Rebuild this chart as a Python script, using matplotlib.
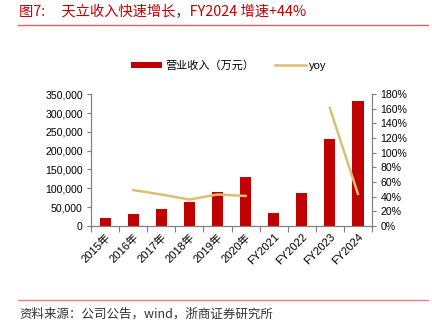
import numpy as np
import matplotlib.pyplot as plt
from matplotlib.ticker import FuncFormatter

plt.rcParams['font.family'] = ['Liberation Sans', 'Noto Sans CJK SC']

# Revenue (10k CNY) and yoy growth
years = ['2015年', '2016年', '2017年', '2018年', '2019年', '2020年',
         'FY2021', 'FY2022', 'FY2023', 'FY2024']
revenue = [21000, 31000, 45000, 63000, 91000, 129000, 34000, 87500, 230000, 332000]
yoy = [np.nan, 49, 43, 36, 43, 41, np.nan, np.nan, 161, 44]

red = '#C00000'
gold = '#DDBE72'
grey = '#808080'

fig = plt.figure(figsize=(4.32, 3.27), dpi=100)
ax = fig.add_axes([0.211, 0.309, 0.65, 0.403])
ax2 = ax.twinx()

x = np.arange(len(years))
bars = ax.bar(x, revenue, width=0.4, color=red, label='营业收入（万元）', zorder=2)
line, = ax2.plot(x, yoy, color=gold, lw=1.8, label='yoy', zorder=3)
ax2.set_zorder(ax.get_zorder() + 1)
ax2.patch.set_visible(False)

ax.set_xlim(-0.5, len(years) - 0.5)
ax.set_ylim(0, 350000)
ax.set_yticks(np.arange(0, 350001, 50000))
ax.yaxis.set_major_formatter(FuncFormatter(lambda v, p: '{:,.0f}'.format(v)))
ax2.set_ylim(0, 180)
ax2.set_yticks(np.arange(0, 181, 20))
ax2.yaxis.set_major_formatter(FuncFormatter(lambda v, p: '{:.0f}%'.format(v)))

# category boundaries get the ticks, labels sit under the bars
ax.set_xticks(np.arange(-0.5, len(years), 1.0))
ax.set_xticklabels([])
ax.set_xticks(x, minor=True)
ax.set_xticklabels(years, minor=True, rotation=45, ha='right',
                   rotation_mode='anchor', fontsize=8)
ax.tick_params(axis='x', which='minor', length=0, pad=4)
ax.tick_params(axis='x', which='major', length=4, color=grey, direction='out')

for a in (ax, ax2):
    a.spines['top'].set_visible(False)
    for s in ('left', 'right', 'bottom'):
        a.spines[s].set_color(grey)
        a.spines[s].set_linewidth(0.8)
    a.tick_params(axis='y', labelsize=7.6, length=3, color=grey, pad=3)

fig.legend(handles=[bars, line], loc='center', bbox_to_anchor=(0.53, 0.80),
           ncol=2, frameon=False, fontsize=8, handlelength=2.8,
           handleheight=0.5, columnspacing=1.8, handletextpad=0.3)

# heading and source
fig.text(0.044, 0.962, '图7:     天立收入快速增长，FY2024 增速+44%', color=red,
         fontsize=10.3, va='center', family=['Noto Sans CJK SC', 'DejaVu Sans'])
fig.add_artist(plt.Line2D([0.042, 0.99], [0.923, 0.923], color='#E06060', lw=1.0))
fig.add_artist(plt.Line2D([0.042, 0.99], [0.083, 0.083], color='#E88080', lw=1.0))
fig.text(0.044, 0.04, '资料来源：公司公告，wind，浙商证券研究所', color='#333333',
         fontsize=9, va='center', family=['Noto Sans CJK SC', 'DejaVu Sans'])

fig.savefig('out.png', dpi=100)
